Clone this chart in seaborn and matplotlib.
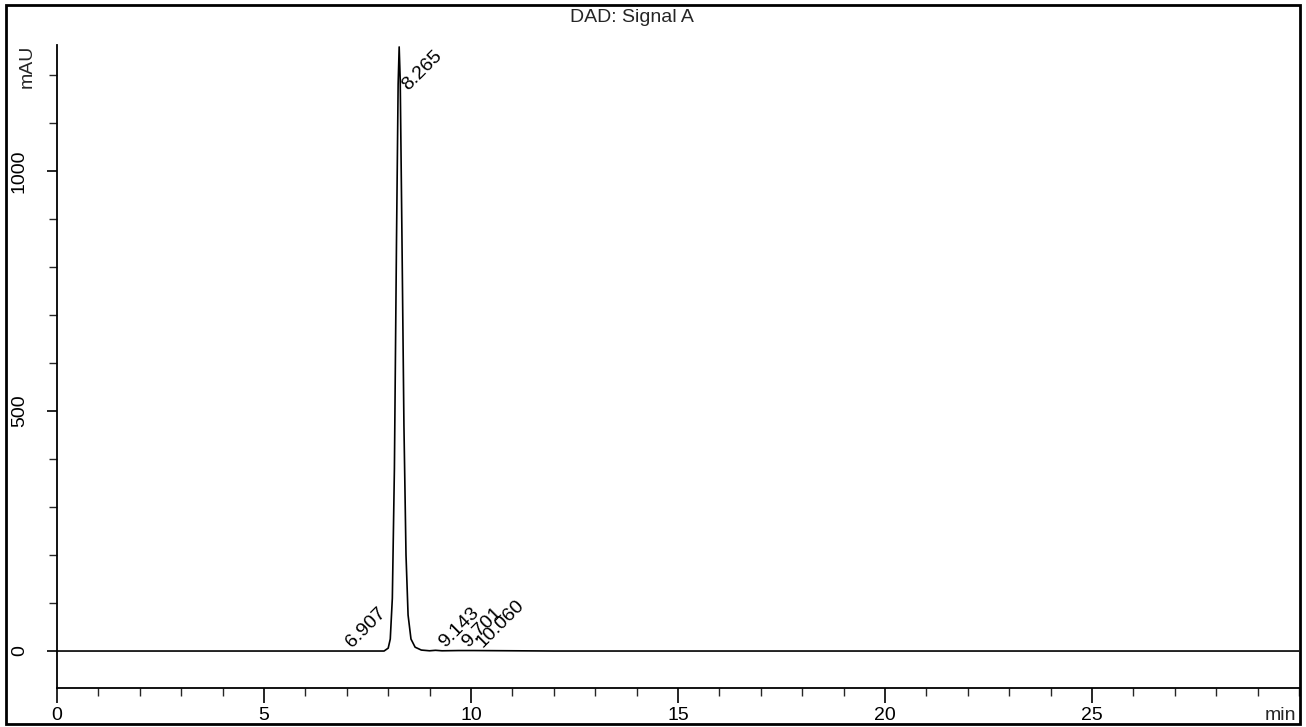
import matplotlib
matplotlib.use('Agg')
import matplotlib.pyplot as plt
from matplotlib.patches import Rectangle
from matplotlib.ticker import MultipleLocator
import pandas as pd
import seaborn as sns

# signal trace (time in min, absorbance in mAU)
time_min = [0.0, 7.90, 8.00, 8.05, 8.10, 8.15, 8.20, 8.24, 8.265, 8.29, 8.33,
            8.38, 8.43, 8.48, 8.55, 8.65, 8.80, 9.00, 9.143, 9.30, 9.701,
            10.06, 12.0, 30.0]
signal_mau = [0.0, 0.0, 6.0, 25.0, 110.0, 380.0, 850.0, 1180.0, 1258.0, 1190.0,
              880.0, 470.0, 200.0, 75.0, 25.0, 8.0, 2.0, 0.5, 1.5, 0.5, 1.0,
              1.0, 0.0, 0.0]

# integrated peak labels
peak_rt = [6.907, 8.265, 9.143, 9.701, 10.060]
peak_label_y = [0.0, 1160.0, 0.0, 0.0, 0.0]
peak_labels = ['6.907', '8.265', '9.143', '9.701', '10.060']

df = pd.DataFrame({'time': time_min, 'mAU': signal_mau})

sns.set_style('ticks')
plt.rcParams['font.family'] = ['Liberation Sans', 'DejaVu Sans']
plt.rcParams['font.size'] = 14

fig = plt.figure(figsize=(13.06, 7.27), dpi=100)
ax = fig.add_axes([57 / 1306, 1 - 688 / 727, (1299 - 57) / 1306, (688 - 45) / 727])

sns.lineplot(data=df, x='time', y='mAU', ax=ax, color='black', linewidth=1.2)

for rt, y, lab in zip(peak_rt, peak_label_y, peak_labels):
    ax.text(rt, y, lab, rotation=45, ha='left', va='bottom',
            fontsize=14, color='black')

ax.set_xlim(0, 30)
ax.set_ylim(-77, 1262)
ax.set_xticks([0, 5, 10, 15, 20, 25])
ax.xaxis.set_minor_locator(MultipleLocator(1))
ax.set_yticks([0, 500, 1000])
ax.yaxis.set_minor_locator(MultipleLocator(100))
ax.tick_params(axis='x', which='major', length=11, width=1.2, labelsize=14, pad=3, colors='black')
ax.tick_params(axis='x', which='minor', length=6, width=1)
ax.tick_params(axis='y', which='major', length=7, width=1.2, labelsize=14, pad=14, colors='black')
ax.tick_params(axis='y', which='minor', length=6, width=1)
for t in ax.get_yticklabels():
    t.set_rotation(90)
    t.set_va('center')
ax.set_xlabel('')
ax.set_ylabel('')
sns.despine(ax=ax, top=True, right=True)
for side in ['left', 'bottom']:
    ax.spines[side].set_color('black')
    ax.spines[side].set_linewidth(1.3)

ax.text(-0.0175, 1.0, 'mAU', transform=ax.transAxes, rotation=90, ha='right', va='top', fontsize=14)
ax.annotate('min', xy=(1.0, 0.0), xycoords='axes fraction', xytext=(-2, -14),
            textcoords='offset points', ha='right', va='top', fontsize=14)

fig.text(632 / 1306, 1 - 17 / 727, 'DAD: Signal A', ha='center', va='center', fontsize=14)

fig.patches.append(Rectangle((6 / 1306, 3 / 727), 1294 / 1306, 719 / 727, transform=fig.transFigure,
                             fill=False, edgecolor='black', linewidth=2))

fig.savefig('out.png', dpi=100)
